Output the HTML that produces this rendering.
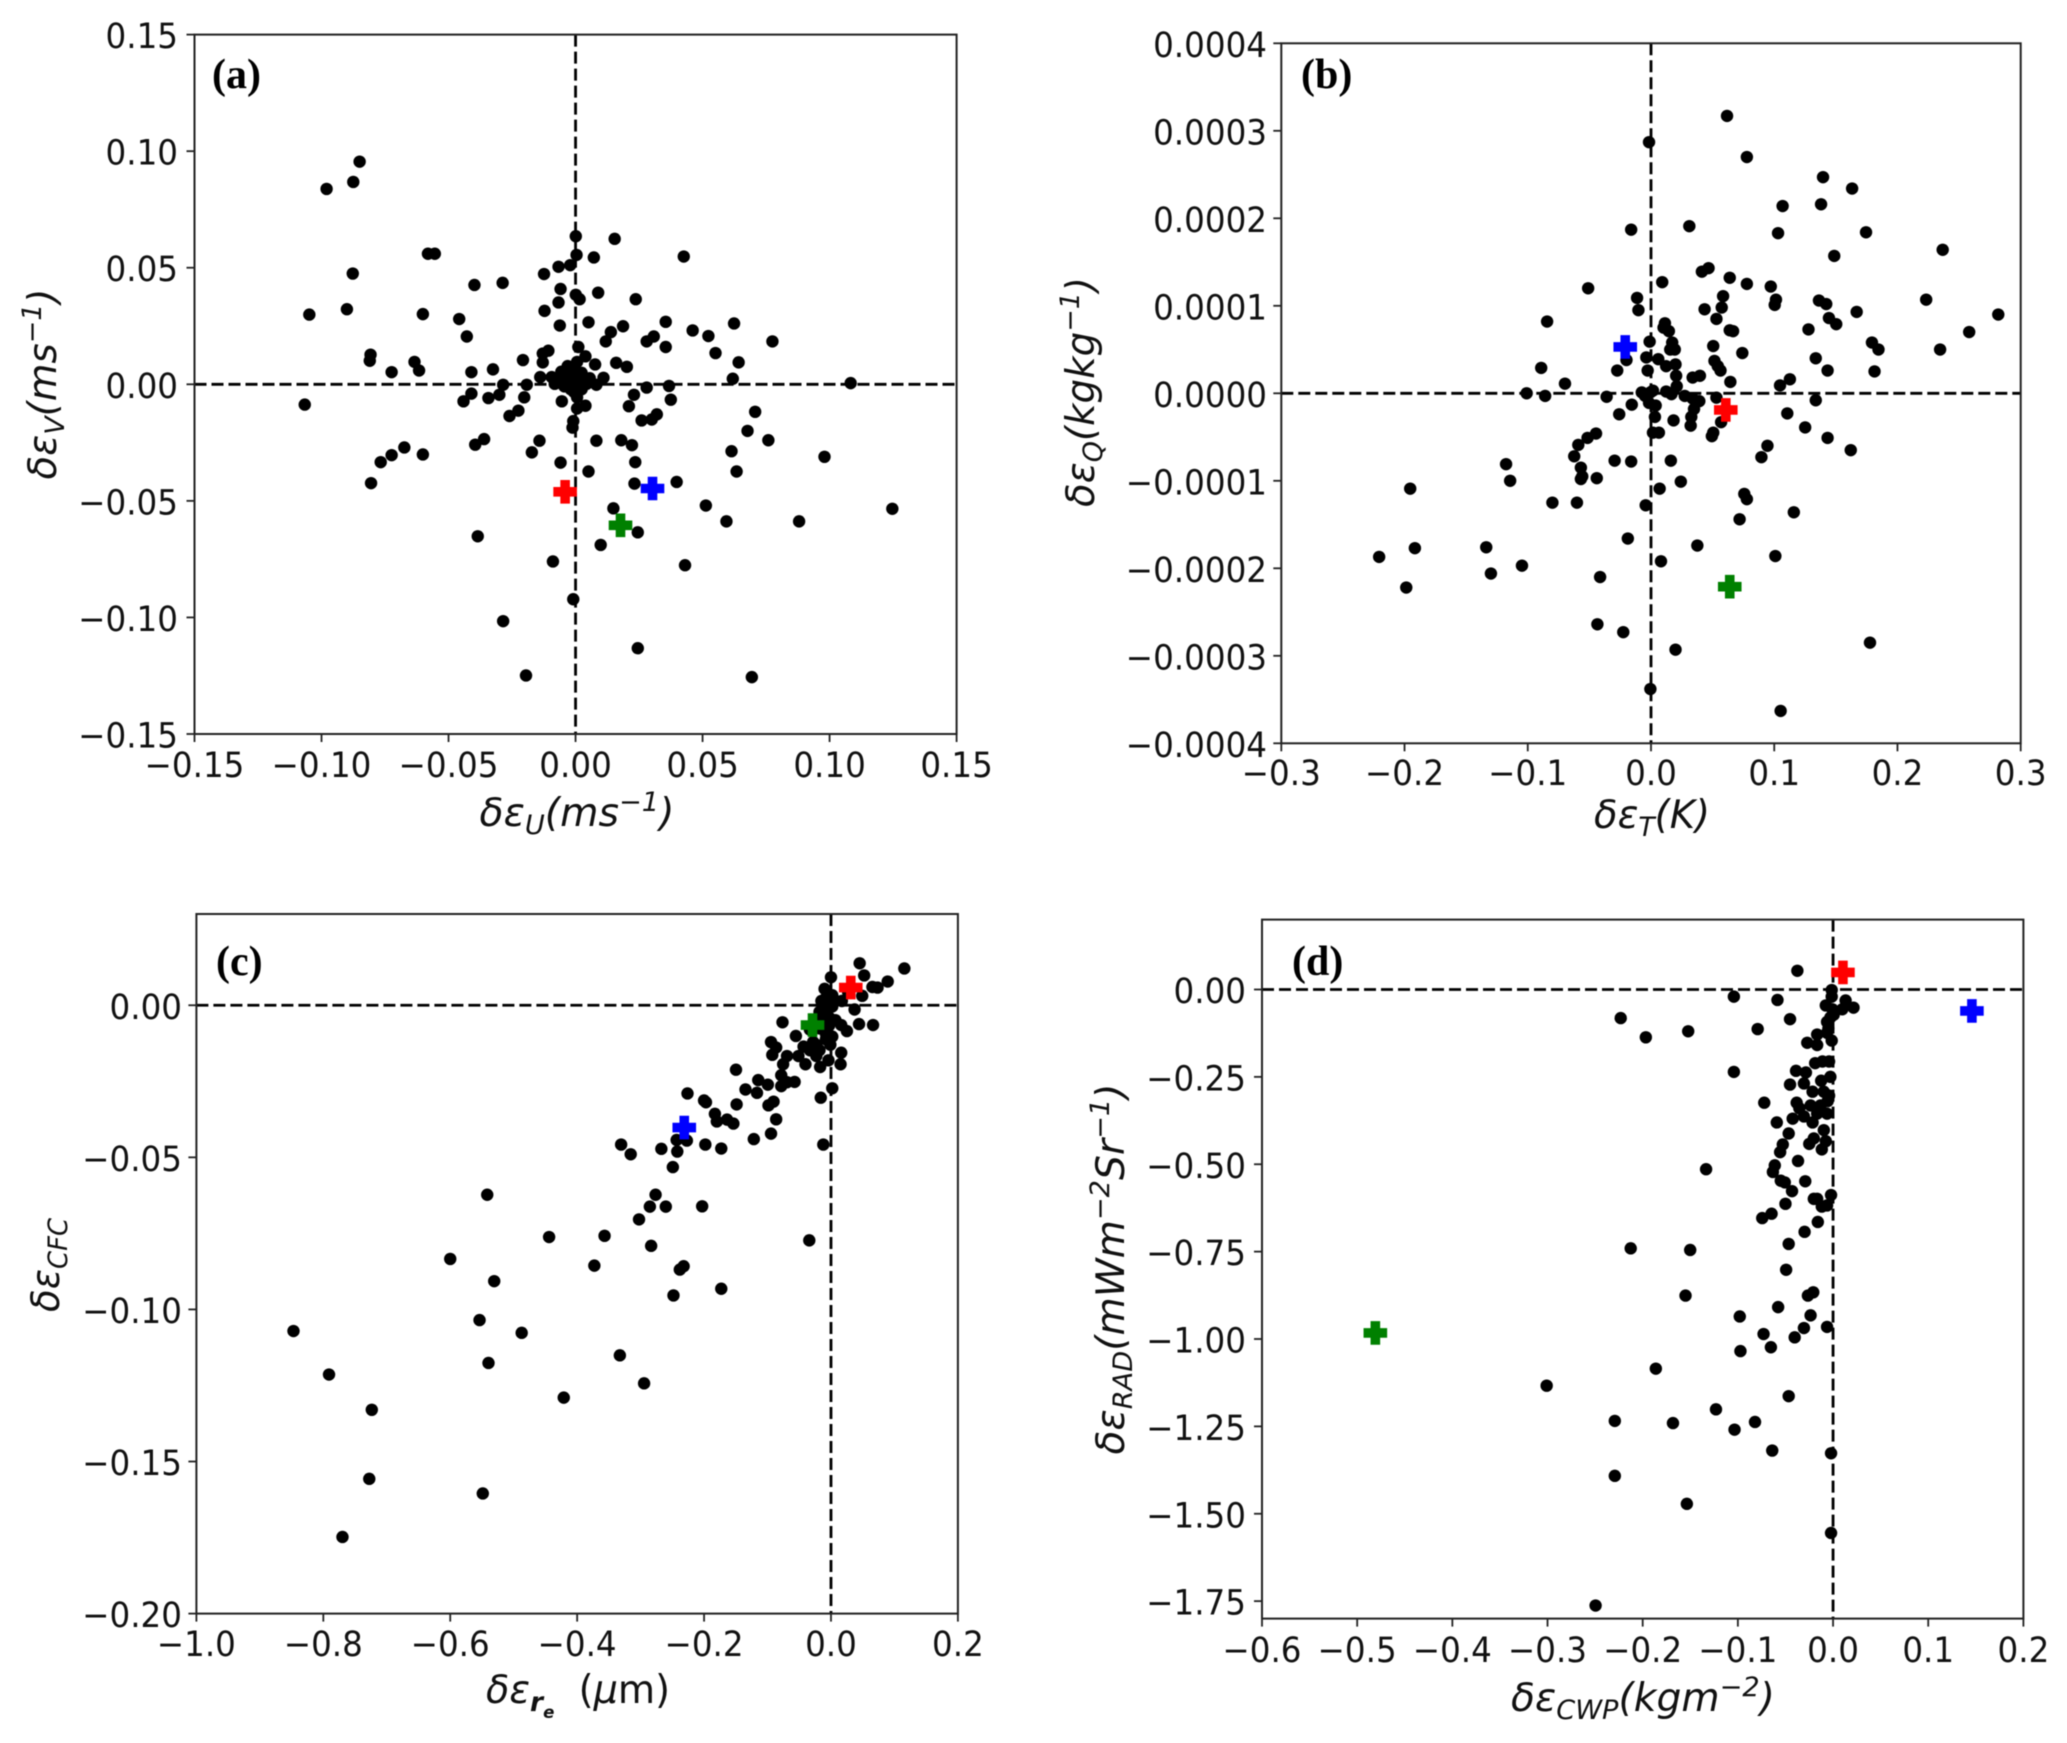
<!DOCTYPE html>
<html>
<head>
<meta charset="utf-8">
<title>Scatter panels</title>
<style>
html,body{margin:0;padding:0;background:#fff;}
svg{display:block;filter:blur(0.4px);}
text{font-family:"DejaVu Sans",sans-serif;fill:#111;}
.tick{font-size:35px;}
.ax{font-size:39px;font-style:italic;}
.sub{font-size:27px;}
.tag{font-family:"Liberation Serif",serif;font-weight:bold;font-size:42px;fill:#000;}
</style>
</head>
<body>
<svg id="fig" xmlns="http://www.w3.org/2000/svg" width="2067" height="1743" viewBox="0 0 2067 1743">
<rect width="2067" height="1743" fill="#fff"/>
<g id="marks"></g>
<text class="tag" x="212" y="88">(a)</text>
<text class="tag" x="1301" y="88">(b)</text>
<text class="tag" x="216" y="975">(c)</text>
<text class="tag" x="1292" y="975">(d)</text>

<text class="ax" x="577" y="826" text-anchor="middle" textLength="195" lengthAdjust="spacingAndGlyphs">δε<tspan class="sub" dy="8">U</tspan><tspan dy="-8">(ms</tspan><tspan class="sub" dy="-15">−1</tspan><tspan dy="15">)</tspan></text>
<text class="ax" transform="translate(56,384) rotate(-90)" text-anchor="middle" textLength="191" lengthAdjust="spacingAndGlyphs">δε<tspan class="sub" dy="8">V</tspan><tspan dy="-8">(ms</tspan><tspan class="sub" dy="-15">−1</tspan><tspan dy="15">)</tspan></text>

<text class="ax" x="1652" y="828" text-anchor="middle" textLength="116" lengthAdjust="spacingAndGlyphs">δε<tspan class="sub" dy="8">T</tspan><tspan dy="-8">(K)</tspan></text>
<text class="ax" transform="translate(1094,392) rotate(-90)" text-anchor="middle" textLength="230" lengthAdjust="spacingAndGlyphs">δε<tspan class="sub" dy="8">Q</tspan><tspan dy="-8">(kgkg</tspan><tspan class="sub" dy="-15">−1</tspan><tspan dy="15">)</tspan></text>

<text class="ax" x="578" y="1703" text-anchor="middle" textLength="184" lengthAdjust="spacingAndGlyphs">δε<tspan class="sub" dy="8" font-weight="bold">r</tspan><tspan style="font-size:17px" dy="7" font-weight="bold">e</tspan><tspan dy="-15" xml:space="preserve" style="font-style:normal">  (</tspan><tspan>μ</tspan><tspan style="font-style:normal">m)</tspan></text>
<text class="ax" transform="translate(59,1265) rotate(-90)" text-anchor="middle" textLength="94" lengthAdjust="spacingAndGlyphs">δε<tspan class="sub" dy="8">CFC</tspan></text>

<text class="ax" x="1643" y="1711" text-anchor="middle" textLength="264" lengthAdjust="spacingAndGlyphs">δε<tspan class="sub" dy="8">CWP</tspan><tspan dy="-8">(kgm</tspan><tspan class="sub" dy="-15">−2</tspan><tspan dy="15">)</tspan></text>
<text class="ax" transform="translate(1124,1269) rotate(-90)" text-anchor="middle" textLength="371" lengthAdjust="spacingAndGlyphs">δε<tspan class="sub" dy="8">RAD</tspan><tspan dy="-8">(mWm</tspan><tspan class="sub" dy="-15">−2</tspan><tspan dy="15">Sr</tspan><tspan class="sub" dy="-15">−1</tspan><tspan dy="15">)</tspan></text>
</svg>
<script>
const markerColors = ['red', 'blue', 'green'];

const xTicksA = ['−0.15','−0.10','−0.05','0.00','0.05','0.10','0.15'];
const yTicksA = ['0.15','0.10','0.05','0.00','−0.05','−0.10','−0.15'];
const xTicksB = ['−0.3','−0.2','−0.1','0.0','0.1','0.2','0.3'];
const yTicksB = ['0.0004','0.0003','0.0002','0.0001','0.0000','−0.0001','−0.0002','−0.0003','−0.0004'];
const xTicksC = ['−1.0','−0.8','−0.6','−0.4','−0.2','0.0','0.2'];
const yTicksC = ['0.00','−0.05','−0.10','−0.15','−0.20'];
const xTicksD = ['−0.6','−0.5','−0.4','−0.3','−0.2','−0.1','0.0','0.1','0.2'];
const yTicksD = ['0.00','−0.25','−0.50','−0.75','−1.00','−1.25','−1.50','−1.75'];

const markersA = [[-.0041,-.0461],[.0303,-.0447],[.0177,-.0605]];
const markersB = [[.0607,-.000019],[-.0209,.000053],[.0639,-.000221]];
const markersC = [[.0312,.0058],[-.2312,-.0402],[-.0291,-.0065]];
const markersD = [[.0104,.0487],[.1459,-.0613],[-.4809,-.9827]];

const pointsA = [
[-.085,.0955],[-.0875,.0868],[-.098,.0838],[-.0877,.0475],[-.09,.0322],[-.1048,.0299],[-.0581,.056],[-.0554,.056],[-.0601,.0301],[-.0398,.0426],
[-.0287,.0435],[-.0458,.028],[-.0428,.0205],[-.0807,.0127],[-.081,.0101],[-.0724,.0052],[-.0634,.0096],[-.0616,.0059],[-.041,.0052],[-.0325,.0064],
[-.0207,.0104],[-.0129,.0094],[-.0129,.0132],[-.0107,.0144],[-.0139,.0031],[-.0192,-.0002],[-.0285,-.0002],[-.03,-.0045],[-.0343,-.0059],[-.041,-.004],
[-.0441,-.0073],[-.0202,-.0056],[-.0225,-.0113],[-.026,-.0136],[-.1066,-.0087],[-.0805,-.0424],[-.0767,-.0334],[-.0724,-.0304],[-.0674,-.0271],[-.0601,-.0301],
[-.0395,-.0259],[-.036,-.0235],[-.0142,-.0242],[-.0172,-.0292],[-.0059,-.0336],[-.0054,-.0073],[-.0009,-.0158],[-.0012,-.0186],[.0082,-.0242],[.018,-.024],
[.0222,-.0261],[.0235,-.0334],[.0051,-.0374],[.0232,-.0426],[.0149,-.0532],[.0245,-.0635],[.0099,-.0689],[-.0089,-.076],[-.0385,-.0652],[-.0009,-.0922],
[-.0285,-.1016],[-.0195,-.1249],[.0245,-.1132],[.0694,-.1256],[.0431,-.0776],[.0513,-.052],[.0594,-.0588],[.088,-.0588],[.1247,-.0534],[.098,-.0311],
[.0398,-.0419],[.0634,-.0374],[.0614,-.0287],[.0759,-.024],[.0677,-.02],[.0707,-.0118],[.1083,.0005],[.0619,.0024],[.0642,.0094],[.0551,.0134],
[.0523,.0207],[.0775,.0184],[.0624,.0261],[.0461,.0231],[.0355,.0268],[.0308,.0205],[.028,.0184],[.0355,.016],[.0187,.0249],[.0139,.0224],
[.0119,.0184],[.0237,.0365],[.0089,.0393],[.0051,.0266],[.0001,.0384],[.0016,.0365],[-.0059,.0409],[-.0067,.0351],[-.0122,.0315],[-.0062,.0252],
[-.0124,.0473],[-.0067,.0504],[-.0021,.0511],[.0001,.0635],[.0004,.0555],[.0072,.0544],[.0154,.0624],[.0426,.0548],[.016,.0092],[.0202,.0075],
[.0077,.0085],[.011,.0028],[.028,-.0014],[.0368,-.0007],[.0375,-.0066],[.023,-.0045],[.021,-.0094],[.026,-.0155],[.03,-.0151],[.032,-.0129],
[-.0056,.0054],[-.0031,.0078],[.0006,.0096],[.0011,.016],[.0039,.012],[.0056,.0026],[.0082,-.0002],[-.0031,.0026],[-.0094,.0031],[-.0082,.0002],
[-.0056,.0026],[-.0019,.0049],[.0006,.0026],[.0024,-.0021],[-.0019,-.0021],[.0006,-.0056],[.0039,-.0092],[.0006,-.0104],[-.0044,-.0009],[-.0006,.0002],
[.0019,.0002],[.0044,.0002],[-.0006,-.0033],[-.0031,.0014],[.0024,.0049],[-.0006,.0073]
];

const pointsB = [
[.0617,.000317],[-.0016,.000287],[.0778,.00027],[.1396,.000247],[.1632,.000234],[.1068,.000214],[.138,.000216],[.0311,.000191],[-.0161,.000187],[.1031,.000183],
[.1745,.000184],[.2367,.000164],[.1487,.000157],[.0467,.000143],[.0413,.000139],[.0639,.000132],[.0778,.000125],[.0091,.000127],[-.051,.00012],[.0972,.000122],
[-.0113,.000109],[-.0102,.000095],[.0585,.000111],[.0574,.000098],[.0435,.000096],[.1014,.000107],[.1004,.000101],[.1363,.000106],[.1422,.000102],[.2233,.000107],
[.1669,.000093],[.2818,.00009],[.1444,.000086],[.1503,.000079],[.1278,.000073],[.2582,.00007],[.0531,.000085],[.0639,.000072],[.0666,.000071],[.0113,.00008],
[.0102,.000075],[.0145,.000071],[-.0843,.000082],[.1793,.000058],[.1846,.00005],[.2346,.00005],[.1337,.00004],[.1433,.000026],[.1814,.000025],[.0505,.000054],
[.0741,.000046],[.0515,.000037],[.0564,.000026],[.0542,.000031],[.0644,.000013],[-.0011,.000059],[.0172,.000058],[.0156,.00005],[.0193,.00005],[-.0038,.000041],
[.0059,.000039],[.0199,.000033],[.0123,.000031],[-.0027,.000026],[-.0199,.000038],[-.0274,.000026],[-.0891,.000029],[-.0698,.000011],[-.1009,0],[-.0859,-.000003],
[-.036,-.000004],[.0338,.000018],[.0397,.00002],[.0204,.00002],[.0209,.000008],[-.0075,.000001],[-.0005,.000001],[-.0048,-.000003],[.0016,.000003],[.0123,.000002],
[.0166,-.000001],[.0274,-.000003],[.0338,-.000006],[.0392,-.000009],[.0349,-.000018],[.0327,-.000027],[.0322,-.000037],[.0531,-.000005],[.0569,-.000033],[.0505,-.000045],
[.0494,-.000049],[.1047,.000009],[.1127,.000016],[.1337,-.000008],[.1106,-.000023],[.1251,-.000039],[.1433,-.000051],[.1621,-.000065],[.0945,-.00006],[.0896,-.000073],
[-.0156,-.000013],[-.0258,-.000024],[-.0016,-.000011],[.0038,-.000014],[.0032,-.000027],[.0183,-.000031],[.0016,-.000045],[.0064,-.000045],[-.0446,-.000046],[-.0515,-.000051],
[-.059,-.000059],[-.0623,-.000072],[-.0569,-.000085],[-.0558,-.000095],[-.0569,-.000098],[-.044,-.000097],[-.0295,-.000077],[-.0161,-.000078],[.0161,-.000077],[.0242,-.000101],
[.007,-.000109],[-.0043,-.000128],[-.1176,-.000081],[-.1143,-.0001],[-.08,-.000125],[-.0601,-.000125],[.0757,-.000115],[.0778,-.000121],[.1159,-.000136],[.0719,-.000144],
[-.0188,-.000166],[.0376,-.000174],[.1009,-.000186],[.0081,-.000192],[-.1954,-.000109],[-.1916,-.000177],[-.2206,-.000187],[-.1986,-.000222],[-.1337,-.000176],[-.1299,-.000206],
[-.1047,-.000197],[-.0413,-.00021],[-.0435,-.000264],[-.0225,-.000273],[.0199,-.000293],[-.0005,-.000338],[.1052,-.000363],[.1777,-.000285]
];

const pointsC = [
[-.847,-.1071],[-.791,-.1214],[-.7236,-.133],[-.7276,-.1557],[-.7698,-.1748],[-.5487,-.1605],[-.5397,-.1176],[-.5538,-.1035],[-.4874,-.1077],[-.5307,-.0907],
[-.6,-.0834],[-.5417,-.0623],[-.4442,-.0762],[-.3568,-.0758],[-.3729,-.0856],[-.4211,-.129],[-.3327,-.1151],[-.2945,-.1243],[-.2834,-.0791],[-.3025,-.0704],
[-.2854,-.0662],[-.2764,-.0623],[-.2603,-.0662],[-.203,-.0661],[-.2382,-.0869],[-.2322,-.0858],[-.2482,-.0954],[-.1729,-.0932],[-.0342,-.0773],[-.3307,-.0458],
[-.3156,-.049],[-.2673,-.0472],[-.2492,-.0532],[-.2422,-.0481],[-.2432,-.0443],[-.2271,-.0445],[-.2261,-.029],[-.2,-.0313],[-.197,-.0319],[-.1829,-.0357],
[-.1799,-.0382],[-.1638,-.0376],[-.1538,-.0389],[-.198,-.0458],[-.1729,-.0471],[-.1487,-.0326],[-.1497,-.0212],[-.1347,-.0277],[-.1166,-.0288],[-.1146,-.0246],
[-.0995,-.0261],[-.0985,-.0329],[-.0905,-.0317],[-.0864,-.0375],[-.0945,-.0422],[-.1216,-.044],[-.0121,-.0458],[-.0161,-.0304],[.002,-.0273],[-.0764,-.0056],
[-.0945,-.0121],[-.0864,-.0139],[-.0925,-.0163],[-.0693,-.0167],[-.0754,-.0194],[-.0784,-.023],[-.0784,-.0266],[-.0693,-.0253],[-.0573,-.0252],[-.0513,-.0167],
[-.0402,-.0194],[-.0171,-.0203],[-.004,-.0181],[.0151,-.0194],[.0161,-.0156],[-.0553,-.0101],[-.0432,-.0136],[-.0231,-.013],[-.008,-.0112],[-.001,-.013],
[-.0231,-.0167],[.0161,-.0065],[.0251,-.0085],[.0442,-.0062],[.0663,-.0065],[.0372,-.0014],[.0492,.0031],[.0452,.0138],[.0523,.0098],[.0653,.006],
[.0734,.0058],[.0894,.0078],[.1156,.0121],[0,.0092],[-.0101,.0054],[-.0151,.0014],[-.008,.0024],[.002,.0033],[.0171,.0014],[-.0181,-.0022],
[-.008,-.0013],[.002,-.0004],[-.0131,-.0049],[-.003,-.004],[-.0181,-.0076],[-.003,-.0067],[.007,-.0049],[-.008,-.0094],[.002,-.0103],[-.0332,-.008],
[-.0281,-.0121],[-.0332,-.0148],[.007,.0014],[.0271,.0042],[-.0181,-.0148]
];

const pointsD = [
[-.0375,.0535],[-.1042,-.0204],[-.0584,-.0299],[-.2231,-.0818],[-.1967,-.1368],[-.1522,-.1195],[-.0452,-.0849],[-.0792,-.1132],[-.1042,-.2358],[-.0723,-.3239],
[-.1334,-.5142],[-.2126,-.7406],[-.1501,-.7453],[-.155,-.8758],[-.0493,-.8019],[-.0466,-.728],[-.0299,-.6934],[-.016,-.6651],[-.0744,-.6541],[-.0646,-.6415],
[-.05,-.6132],[-.0431,-.577],[-.0549,-.5472],[-.0507,-.5519],[-.0292,-.5487],[-.0632,-.522],[-.0612,-.5031],[-.0368,-.4906],[-.0556,-.4654],[-.0528,-.4434],
[-.0466,-.412],[-.0591,-.3805],[-.0424,-.3695],[-.0382,-.3239],[-.0354,-.3396],[-.0306,-.3632],[-.0452,-.272],[-.0389,-.2327],[-.0285,-.2374],[-.0306,-.2689],
[-.0271,-.1525],[-.0167,-.1289],[-.0167,-.1588],[-.0014,-.1462],[-.0188,-.2107],[-.0111,-.206],[-.0042,-.206],[-.0028,-.25],[-.0125,-.261],[-.0215,-.2925],
[-.0097,-.2925],[-.0042,-.3035],[-.0236,-.3318],[-.0132,-.3318],[-.0056,-.3192],[-.0063,-.3553],[-.0167,-.3553],[-.0215,-.3805],[-.0097,-.4025],[-.0202,-.4261],
[-.025,-.4418],[-.0076,-.434],[-.0118,-.4575],[-.0014,-.0016],[-.0076,-.0456],[-.0007,-.0566],[.0132,-.0314],[.0215,-.0519],[.0097,-.0566],[-.0028,-.0802],
[.0007,-.0723],[-.0063,-.0928],[-.0049,-.1116],[-.0014,-.0204],[-.0063,-.1242],[-.0202,-.5991],[-.0021,-.5881],[-.0167,-.5991],[-.0118,-.6211],[-.0063,-.6179],
[-.0264,-.8758],[-.0208,-.8664],[-.0577,-.9088],[-.098,-.9355],[-.0236,-.9324],[-.0063,-.9654],[-.0306,-.9686],[-.0403,-.9953],[-.073,-.9858],[-.0653,-1.0236],
[-.0973,-1.0346],[-.1862,-1.0849],[-.3009,-1.1336],[-.0466,-1.1635],[-.123,-1.2013],[-.2293,-1.2343],[-.1682,-1.2406],[-.1035,-1.2594],[-.082,-1.2374],[-.0639,-1.3192],
[-.0021,-1.327],[-.2293,-1.3915],[-.1536,-1.4717],[-.0021,-1.555],[-.2495,-1.7626]
];

const NS = 'http://www.w3.org/2000/svg';
const root = document.getElementById('marks');

function make(tag, attrs, parent) {
  const el = document.createElementNS(NS, tag);
  for (const k in attrs) el.setAttribute(k, attrs[k]);
  parent.appendChild(el);
  return el;
}
function num(label) { return parseFloat(label.replace('−', '-')); }
function condense(textEl) {
  const w = textEl.getComputedTextLength();
  textEl.setAttribute('textLength', (w * 0.93).toFixed(1));
  textEl.setAttribute('lengthAdjust', 'spacingAndGlyphs');
}

function drawPanel(p) {
  const sx = v => p.left + (v - p.xMin) / (p.xMax - p.xMin) * (p.right - p.left);
  const sy = v => p.bottom - (v - p.yMin) / (p.yMax - p.yMin) * (p.bottom - p.top);

  const g = make('g', {}, root);
  
  

  const hLine = make('line', {x1: p.left, x2: p.right, y1: sy(0), y2: sy(0), stroke: '#000', 'stroke-width': 2.8, 'stroke-dasharray': '12 5'}, g);
  
  
  const vLine = make('line', {x1: sx(0), x2: sx(0), y1: p.top, y2: p.bottom, stroke: '#000', 'stroke-width': 2.8, 'stroke-dasharray': '12 5'}, g);
  
  

  p.points.forEach(pt => {
    const c = make('circle', {cx: sx(pt[0]), cy: sy(pt[1]), r: 6.2, fill: '#000'}, g);
    
    
  });

  const L = 11.8, W = 4.8;
  p.markers.forEach((m, i) => {
    const cx = sx(m[0]), cy = sy(m[1]);
    const d = `M${cx-W} ${cy-L}H${cx+W}V${cy-W}H${cx+L}V${cy+W}H${cx+W}V${cy+L}H${cx-W}V${cy+W}H${cx-L}V${cy-W}H${cx-W}Z`;
    const s = make('path', {d: d, fill: markerColors[i]}, g);
    
    
  });

  const frame = make('rect', {x: p.left, y: p.top, width: p.right - p.left, height: p.bottom - p.top, fill: 'none', stroke: '#222', 'stroke-width': 2}, g);
  
  

  p.xTicks.forEach(lab => {
    const x = sx(num(lab));
    const t = make('line', {x1: x, x2: x, y1: p.bottom, y2: p.bottom + 8, stroke: '#222', 'stroke-width': 1.8}, g);
    
    
    const tx = make('text', {x: x, y: p.xLabelY, 'text-anchor': 'middle', class: 'tick'}, g);
    tx.textContent = lab;
    condense(tx);
    
    
  });
  p.yTicks.forEach(lab => {
    const y = sy(num(lab));
    const t = make('line', {x1: p.left - 8, x2: p.left, y1: y, y2: y, stroke: '#222', 'stroke-width': 1.8}, g);
    
    
    const ty = make('text', {x: p.yLabelX, y: y + 13.5, 'text-anchor': 'end', class: 'tick'}, g);
    ty.textContent = lab;
    condense(ty);
    
    
  });
}

drawPanel({id:'a', left:194.5, right:956.6, top:34.6, bottom:734, xMin:-.15, xMax:.15, yMin:-.15, yMax:.15, xLabelY:777, yLabelX:178, xTicks:xTicksA, yTicks:yTicksA, points:pointsA, markers:markersA});
drawPanel({id:'b', left:1281.3, right:2020.7, top:43.3, bottom:743.3, xMin:-.3, xMax:.3, yMin:-.0004, yMax:.0004, xLabelY:785, yLabelX:1267, xTicks:xTicksB, yTicks:yTicksB, points:pointsB, markers:markersB});
drawPanel({id:'c', left:196.4, right:957.9, top:914, bottom:1613.6, xMin:-1, xMax:.2, yMin:-.2, yMax:.03, xLabelY:1656, yLabelX:182, xTicks:xTicksC, yTicks:yTicksC, points:pointsC, markers:markersC});
drawPanel({id:'d', left:1262, right:2023.4, top:919.6, bottom:1618.6, xMin:-.6, xMax:.2, yMin:-1.8, yMax:.2, xLabelY:1662, yLabelX:1246, xTicks:xTicksD, yTicks:yTicksD, points:pointsD, markers:markersD});
</script>
</body>
</html>
